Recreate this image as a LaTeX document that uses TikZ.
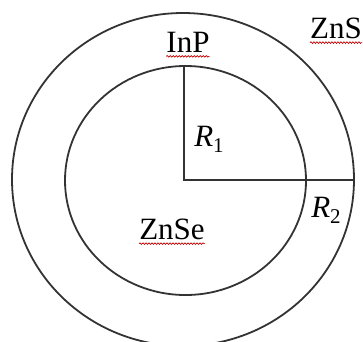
\documentclass[tikz,border=0pt]{standalone}
\usepackage{fontspec}
\setmainfont{Liberation Serif}
\usetikzlibrary{decorations.pathmorphing}
\newcommand{\rsub}[1]{\textit{R}\raisebox{-6pt}{\fontsize{21}{23}\selectfont #1}}
\begin{document}
\begin{tikzpicture}[x=1pt,y=-1pt,
  ring/.style={draw=black!80,line width=1.8pt},
  lbl/.style={inner sep=0pt,font=\fontsize{31}{34}\selectfont},
  squig/.style={draw=red!75!black,line width=0.7pt,decorate,decoration={snake,amplitude=0.8pt,segment length=3pt}}]
\useasboundingbox (0,0) rectangle (363,341);
\draw[ring] (183,179.5) ellipse [x radius=171, y radius=166.5];
\draw[ring] (185.5,180.5) ellipse [x radius=120.5, y radius=114.5];
\coordinate (c) at (184,180);
\coordinate (t) at (184,66);
\coordinate (r) at (354,180);
\draw[ring] (t) -- (c) -- (r);
\node[lbl] (inp) at (188,42) {InP};
\node[lbl] (zns) at (336,28) {ZnS};
\node[lbl] (r1) at (209,139) {\rsub{1}};
\node[lbl] (r2) at (326,210) {\rsub{2}};
\node[lbl] (znse) at (172,229) {ZnSe};
\draw[squig] ([yshift=-4pt]inp.south west) -- ([yshift=-4pt]inp.south east);
\draw[squig] ([yshift=-4pt]zns.south west) -- ([yshift=-4pt]zns.south east);
\draw[squig] ([yshift=-4pt]znse.south west) -- ([yshift=-4pt]znse.south east);
\end{tikzpicture}
\end{document}
